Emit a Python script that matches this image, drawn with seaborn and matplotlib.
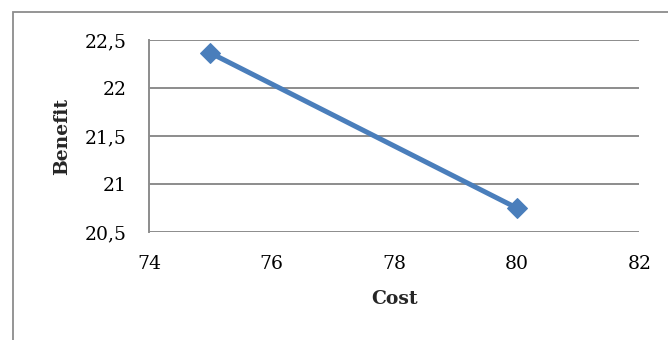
import matplotlib
matplotlib.use("Agg")
import matplotlib.pyplot as plt
import seaborn as sns
import pandas as pd
from matplotlib.patches import Rectangle

# Cost/benefit pairs
cost = [75, 80]
benefit = [22.37, 20.75]

y_ticks = [20.5, 21, 21.5, 22, 22.5]
y_tick_labels = ["20,5", "21", "21,5", "22", "22,5"]
x_ticks = [74, 76, 78, 80, 82]
x_tick_labels = ["74", "76", "78", "80", "82"]

sns.set_theme(style="white")
plt.rcParams["font.family"] = ["DejaVu Serif", "Liberation Serif"]

df = pd.DataFrame({"Cost": cost, "Benefit": benefit})

fig = plt.figure(figsize=(6.68, 3.40), dpi=100)
ax = fig.add_axes([0.223, 0.318, 0.734, 0.563])

grid_color = "#8c8c8c"
line_color = "#4a7ebb"

sns.lineplot(data=df, x="Cost", y="Benefit", ax=ax, color=line_color,
             linewidth=3.6, marker="D", markersize=10,
             markeredgecolor=line_color, markerfacecolor=line_color,
             zorder=3)

ax.set_xlim(74, 82)
ax.set_ylim(20.5, 22.5)
ax.set_yticks(y_ticks)
ax.set_yticklabels(y_tick_labels)
ax.set_xticks(x_ticks)
ax.set_xticklabels(x_tick_labels)

for v in y_ticks:
    ax.axhline(v, color=grid_color, linewidth=1.4, zorder=1)

for side in ["top", "right", "bottom"]:
    ax.spines[side].set_visible(False)
ax.spines["left"].set_color(grid_color)
ax.spines["left"].set_linewidth(1.4)

ax.tick_params(axis="both", length=0, labelsize=13.5, colors="black")
ax.tick_params(axis="y", pad=16)
ax.tick_params(axis="x", pad=17)

ax.set_xlabel("Cost", fontsize=13.5, fontweight="bold", labelpad=12)
ax.set_ylabel("Benefit", fontsize=13.5, fontweight="bold", labelpad=10)

# Outer chart frame
fig.add_artist(Rectangle((13 / 668, -0.2), 1.2, 1.2 - 12 / 340,
                         transform=fig.transFigure, fill=False,
                         edgecolor="#8c8c8c", linewidth=1.3))

fig.savefig("out.png", dpi=100)
